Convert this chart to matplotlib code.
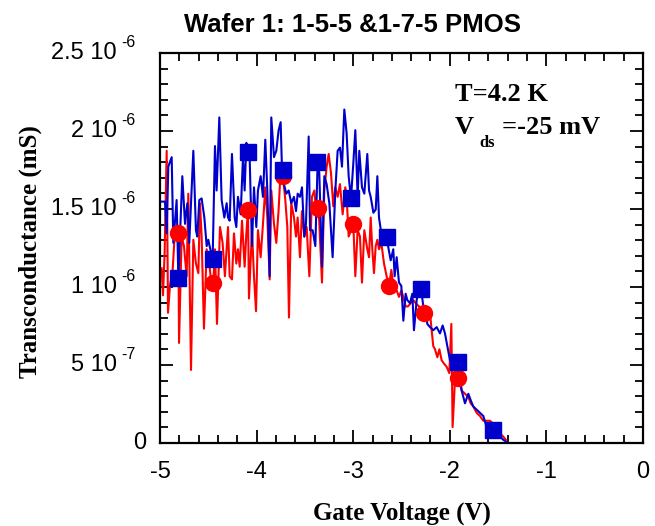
import matplotlib
matplotlib.use("Agg")
import matplotlib.pyplot as plt
import matplotlib.transforms as mtransforms
from matplotlib.ticker import MultipleLocator, FixedLocator, FixedFormatter, NullFormatter

# ---- data (gate voltage V, transconductance; listed values are in units of UNIT mS) ----
blue_v = [-4.983, -4.948, -4.931, -4.914, -4.879, -4.862, -4.828, -4.810, -4.793, -4.769,
          -4.741, -4.717, -4.697, -4.655, -4.628, -4.614, -4.593, -4.569, -4.541, -4.517,
          -4.500, -4.483, -4.455, -4.431, -4.414, -4.386, -4.362, -4.334, -4.310,
          -4.296, -4.279, -4.255, -4.227, -4.210, -4.193, -4.165, -4.141, -4.124, -4.106,
          -4.089, -4.072, -4.048, -4.027, -4.003, -3.986, -3.958, -3.934, -3.910, -3.889,
          -3.865, -3.848, -3.820, -3.796, -3.772, -3.751, -3.737, -3.717, -3.693, -3.668,
          -3.641, -3.613,
          -3.592, -3.575, -3.551, -3.530, -3.506, -3.489, -3.461, -3.447, -3.420, -3.392,
          -3.368, -3.351, -3.323, -3.299, -3.275, -3.247, -3.213, -3.185, -3.161, -3.137,
          -3.116, -3.092, -3.068, -3.047, -3.023, -2.999, -2.978, -2.954, -2.937, -2.909,
          -2.885,
          -2.854, -2.836, -2.819, -2.791, -2.767, -2.750, -2.733, -2.709, -2.681, -2.654,
          -2.612, -2.585, -2.571, -2.550, -2.526, -2.502, -2.481, -2.457, -2.440, -2.412,
          -2.388, -2.371, -2.343, -2.319, -2.295, -2.274, -2.250, -2.233,
          -2.205, -2.171, -2.136, -2.102, -2.074, -2.050, -2.026, -1.998, -1.964, -1.912,
          -1.877, -1.860, -1.843, -1.808, -1.784, -1.757, -1.722, -1.688, -1.653, -1.619,
          -1.584, -1.550, -1.515, -1.481, -1.446, -1.420]
blue_g = [1.52, 1.52, 1.32, 1.74, 1.80, 1.26, 1.53, 1.04, 1.30, 1.68,
          1.38, 1.51, 1.26, 1.84, 1.34, 1.30, 1.53, 1.54, 1.42, 1.24,
          1.28, 1.23, 1.16, 1.87, 1.59, 2.05, 1.53, 1.42, 1.51,
          1.42, 1.40, 1.82, 1.42, 1.36, 1.55, 1.44, 1.80, 1.59, 1.89,
          1.83, 1.80, 1.24, 1.61, 1.36, 1.59, 1.68, 1.55, 1.91, 1.59,
          1.05, 2.05, 1.80, 1.84, 1.97, 2.02, 1.72, 1.63, 1.57, 1.59,
          1.51, 1.55,
          1.46, 1.57, 1.55, 1.61, 1.30, 1.38, 1.93, 1.34, 1.34, 1.24,
          1.77, 1.70, 1.11, 1.68, 1.63, 1.51, 1.17, 1.59, 1.84, 1.86,
          1.74, 2.10, 1.95, 1.68, 1.54, 1.76, 1.97, 1.55, 1.84, 1.61,
          1.57,
          1.82, 1.59, 1.55, 1.45, 1.47, 1.68, 1.42, 1.32, 1.26, 1.29,
          1.15, 1.22, 1.05, 1.17, 1.01, 0.99, 0.77, 0.94, 0.90, 0.88,
          0.94, 0.71, 0.90, 0.96, 0.96, 0.86, 0.84, 0.75,
          0.73, 0.71, 0.73, 0.69, 0.74, 0.69, 0.61, 0.52, 0.50, 0.51,
          0.33, 0.29, 0.25, 0.31, 0.27, 0.23, 0.21, 0.19, 0.17, 0.10,
          0.10, 0.08, 0.10, 0.04, 0.02, 0.01]

red_v = [-4.983, -4.969, -4.952, -4.931, -4.917, -4.897, -4.869, -4.845, -4.828, -4.810,
         -4.803, -4.776, -4.752, -4.724, -4.707, -4.679, -4.655, -4.628, -4.603, -4.586,
         -4.569, -4.545, -4.517, -4.490, -4.466, -4.448, -4.431, -4.410, -4.379, -4.352,
         -4.328,
         -4.296, -4.279, -4.255, -4.234, -4.210, -4.193, -4.175, -4.151, -4.124, -4.106,
         -4.089, -4.079, -4.048, -4.027, -4.006, -3.986, -3.958, -3.934, -3.910, -3.889,
         -3.865, -3.848, -3.820, -3.796, -3.772, -3.751, -3.727, -3.703, -3.682, -3.665,
         -3.641, -3.613,
         -3.592, -3.575, -3.551, -3.530, -3.506, -3.482, -3.454, -3.427, -3.402, -3.378,
         -3.358, -3.323, -3.299, -3.275, -3.254, -3.230, -3.206, -3.185, -3.161, -3.137,
         -3.109, -3.082, -3.068, -3.047, -3.023, -2.999, -2.978, -2.954, -2.930, -2.909,
         -2.885,
         -2.854, -2.836, -2.819, -2.802, -2.785, -2.767, -2.750, -2.733, -2.709, -2.681,
         -2.654, -2.629, -2.605, -2.578, -2.550, -2.526, -2.502, -2.481, -2.457, -2.433,
         -2.405, -2.378, -2.353, -2.319, -2.274, -2.250, -2.226,
         -2.205, -2.188, -2.171, -2.153, -2.129, -2.108, -2.084, -2.060, -2.033, -2.005,
         -1.984, -1.971, -1.946, -1.912, -1.877, -1.843, -1.808, -1.784, -1.757, -1.722,
         -1.688, -1.653, -1.619, -1.584, -1.550, -1.515, -1.481, -1.446, -1.420]
red_g = [1.10, 0.93, 1.20, 1.84, 0.82, 0.99, 1.09, 1.34, 1.28, 1.32,
         0.63, 1.30, 1.24, 1.05, 1.57, 0.46, 1.28, 1.13, 1.07, 1.51,
         1.30, 0.72, 1.22, 1.13, 0.99, 1.01, 1.22, 0.75, 1.36, 1.26,
         1.05,
         1.36, 1.05, 1.03, 1.32, 1.13, 1.22, 1.11, 1.40, 1.11, 1.32,
         1.47, 0.91, 1.34, 1.05, 0.83, 1.34, 1.17, 1.38, 1.61, 1.42,
         1.03, 1.59, 1.38, 1.26, 1.47, 1.72, 1.68, 1.53, 1.36, 0.79,
         1.51, 1.42,
         1.30, 1.42, 1.17, 1.46, 1.30, 1.36, 1.05, 1.55, 1.59, 1.42,
         1.48, 1.01, 1.59, 1.74, 1.82, 1.70, 1.49, 1.61, 1.55, 1.63,
         1.44, 1.61, 1.55, 1.30, 1.34, 1.38, 1.05, 1.34, 1.30, 1.01,
         1.34,
         1.22, 1.17, 1.42, 1.22, 1.07, 1.24, 1.28, 1.22, 1.26, 1.13,
         1.05, 0.99, 1.09, 0.96, 0.96, 0.92, 0.96, 0.92, 0.86, 0.86,
         0.88, 0.90, 0.88, 0.86, 0.82, 0.84, 0.80,
         0.82, 0.71, 0.61, 0.59, 0.54, 0.59, 0.52, 0.50, 0.48, 0.44,
         0.75, 0.10, 0.40, 0.41, 0.33, 0.31, 0.29, 0.25, 0.23, 0.19,
         0.17, 0.14, 0.14, 0.14, 0.12, 0.10, 0.06, 0.04, 0.02]

blue_mark_v = [-4.81, -4.45, -4.09, -3.73, -3.37, -3.02, -2.65, -2.30, -1.92, -1.55]
blue_mark_g = [1.04, 1.16, 1.83, 1.72, 1.77, 1.54, 1.30, 0.97, 0.51, 0.08]
red_mark_v = [-4.81, -4.45, -4.09, -3.73, -3.36, -3.00, -2.63, -2.27, -1.91]
red_mark_g = [1.32, 1.01, 1.47, 1.68, 1.48, 1.38, 0.99, 0.82, 0.41]

x_ticks = [-5, -4, -3, -2, -1, 0]
x_tick_labels = ['-5', '-4', '-3', '-2', '-1', '0']
y_ticks = [0, 0.5e-6, 1e-6, 1.5e-6, 2e-6, 2.5e-6]
y_tick_mantissa = ['0', '5 10', '1 10', '1.5 10', '2 10', '2.5 10']
y_tick_exponent = ['', '-7', '-6', '-6', '-6', '-6']

UNIT = 1.018e-6   # unit of the listed values (read-off calibration)
BLUE = '#0000CC'
RED = '#FF0000'

fig = plt.figure(figsize=(6.55, 5.26), dpi=100)
ax = fig.add_axes([160/655, 1 - 443/526, (643 - 160)/655, (443 - 53)/526])

ax.plot(red_v, [g * UNIT for g in red_g], color=RED, lw=1.5, zorder=2)
ax.plot(blue_v, [g * UNIT for g in blue_g], color=BLUE, lw=1.5, zorder=3)
ax.plot(red_mark_v, [g * UNIT for g in red_mark_g], 'o', color=RED, ms=11.5, mec=RED, zorder=4)
ax.plot(blue_mark_v, [g * UNIT for g in blue_mark_g], 's', color=BLUE, ms=12, mec=BLUE, zorder=5)

ax.set_xlim(-5, 0)
ax.set_ylim(0, 2.5e-6)
ax.xaxis.set_major_locator(FixedLocator(x_ticks))
ax.xaxis.set_major_formatter(FixedFormatter(x_tick_labels))
ax.xaxis.set_minor_locator(MultipleLocator(0.2))
ax.yaxis.set_major_locator(FixedLocator(y_ticks))
ax.yaxis.set_major_formatter(NullFormatter())
ax.yaxis.set_minor_locator(MultipleLocator(1e-7))

for s in ax.spines.values():
    s.set_linewidth(1.6)
ax.tick_params(which='both', direction='in', top=True, right=True, width=1.3)
ax.tick_params(which='major', length=9.5)
ax.tick_params(which='minor', length=5.5)
ax.tick_params(axis='x', which='major', labelsize=17, pad=13)
for lab in ax.get_xticklabels():
    lab.set_family('Liberation Sans')

# y tick labels: "mantissa 10" with raised exponent, as in the original
trans = mtransforms.blended_transform_factory(fig.transFigure, ax.transData)
for val, man, ex in zip(y_ticks, y_tick_mantissa, y_tick_exponent):
    if ex:
        ax.text(117/655, val, man, transform=trans, ha='right', va='center',
                family='Liberation Sans', fontsize=17, clip_on=False)
        ax.text(121/655, val, ex, family='Liberation Sans', fontsize=11.5,
                ha='left', va='center', clip_on=False,
                transform=trans + mtransforms.ScaledTranslation(0, 7.5/72, fig.dpi_scale_trans))
    else:
        ax.text(146/655, val, man, transform=trans, ha='right', va='center',
                family='Liberation Sans', fontsize=17, clip_on=False)

ax.set_xlabel('Gate Voltage (V)', family='Liberation Serif', fontweight='bold', fontsize=18, labelpad=13)
fig.text(30/655, 1 - 252/526, 'Transconductance (mS)', family='Liberation Serif', fontweight='bold',
         fontsize=18, rotation=90, ha='center', va='center')

fig.text(352/655, 1 - 25/526, 'Wafer 1: 1-5-5 &1-7-5 PMOS', family='Liberation Sans', fontweight='bold',
         fontsize=18.5, ha='center', va='center')

fig.text(455/655, 1 - 101/526, 'T=4.2 K', family='Liberation Serif', fontweight='bold',
         fontsize=19, ha='left', va='baseline')
fig.text(455/655, 1 - 134/526, 'V', family='Liberation Serif', fontweight='bold',
         fontsize=19, ha='left', va='baseline')
fig.text(479/655, 1 - 147/526, 'ds', family='Liberation Serif', fontweight='bold',
         fontsize=12, ha='left', va='baseline')
fig.text(502/655, 1 - 134/526, '=-25 mV', family='Liberation Serif', fontweight='bold',
         fontsize=19, ha='left', va='baseline')

fig.savefig('out.png', dpi=100)
